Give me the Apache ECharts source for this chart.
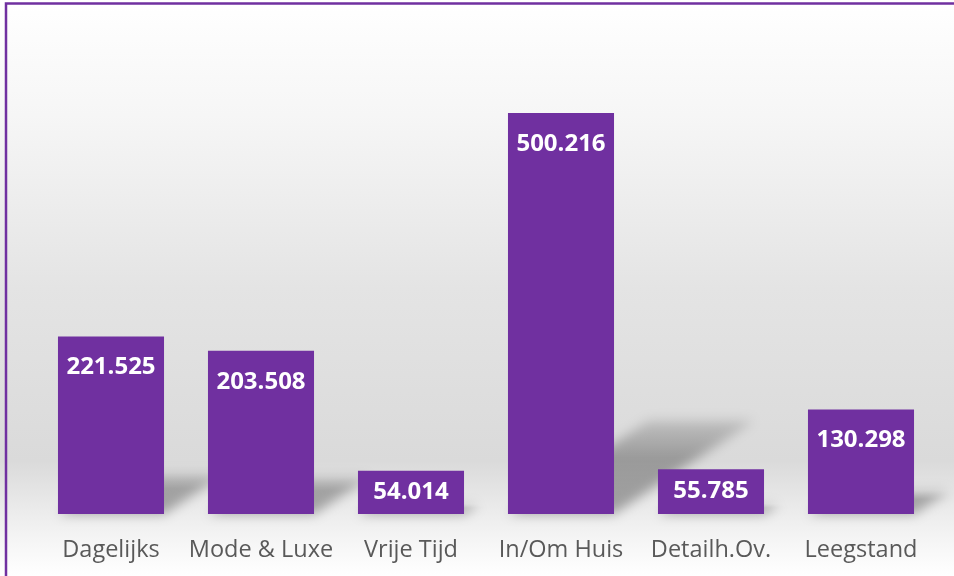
<!DOCTYPE html>
<html>
<head>
<meta charset="utf-8">
<title>Detailhandel</title>
<script src="https://cdn.jsdelivr.net/npm/echarts@6/dist/echarts.min.js"></script>
<style>
  html, body { margin: 0; padding: 0; background: #fff; }
  #chart { width: 954px; height: 576px; }
</style>
</head>
<body>
<div id="chart"></div>
<script>
// categories and values
var categories = ['Dagelijks', 'Mode & Luxe', 'Vrije Tijd', 'In/Om Huis', 'Detailh.Ov.', 'Leegstand']
var values = [221.525, 203.508, 54.014, 500.216, 55.785, 130.298]
var yMax = 600

var purple = '#7030A0'
var barRatio = 0.707
var far = 3000 // shadow shape drawn off canvas, only its blurred shadow shows

function fmt(v) {
  return v.toFixed(3)
}

var chart = echarts.init(document.getElementById('chart'))

var option = {
  animation: false,
  graphic: [
    {
      type: 'rect',
      z: -10,
      silent: true,
      shape: { x: 0, y: 0, width: 954, height: 576 },
      style: {
        fill: new echarts.graphic.LinearGradient(0, 0, 0, 1, [
          { offset: 0, color: '#ffffff' },
          { offset: 0.2, color: '#f6f6f6' },
          { offset: 0.5, color: '#e4e4e4' },
          { offset: 0.8, color: '#dadada' },
          { offset: 0.89, color: '#ececec' },
          { offset: 0.95, color: '#f7f7f7' },
          { offset: 1, color: '#ffffff' }
        ])
      }
    },
    {
      type: 'rect',
      z: 100,
      silent: true,
      shape: { x: 6, y: 3.5, width: 1000, height: 1000 },
      style: { fill: 'none', stroke: purple, lineWidth: 2.5 }
    }
  ],
  grid: {
    left: 36,
    right: 18,
    top: 33,
    bottom: 62,
    containLabel: false
  },
  xAxis: {
    type: 'category',
    data: categories,
    axisLine: { show: false },
    axisTick: { show: false },
    axisLabel: {
      interval: 0,
      color: '#595959',
      fontSize: 23.5,
      fontFamily: 'Open Sans',
      margin: 24
    }
  },
  yAxis: {
    type: 'value',
    min: 0,
    max: yMax,
    show: false,
    splitLine: { show: false }
  },
  series: [
    {
      // perspective shadow behind each bar
      type: 'custom',
      z: 1,
      silent: true,
      clip: false,
      data: values.map(function(v, i) {
        return [i, v]
      }),
      renderItem: function(params, api) {
        var base = api.coord([api.value(0), 0])
        var top = api.coord([api.value(0), api.value(1)])
        var bw = api.size([1, 0])[0] * barRatio
        var h = base[1] - top[1]
        var x0 = base[0] - bw / 2 + far
        var x1 = base[0] + bw / 2 + far
        var dx = h * 0.35
        var dy = h * 0.235
        return {
          type: 'polygon',
          shape: {
            points: [
              [x0, base[1]],
              [x1, base[1]],
              [x1 + dx, base[1] - dy],
              [x0 + dx, base[1] - dy]
            ]
          },
          style: {
            fill: new echarts.graphic.LinearGradient(0, 1, 0, 0, [
              { offset: 0, color: 'rgba(0,0,0,1)' },
              { offset: 0.6, color: 'rgba(0,0,0,0.9)' },
              { offset: 1, color: 'rgba(0,0,0,0.4)' }
            ]),
            shadowBlur: 12,
            shadowOffsetX: -far,
            shadowColor: 'rgba(0,0,0,0.32)'
          }
        }
      }
    },
    {
      type: 'bar',
      z: 3,
      barCategoryGap: '29.3%',
      data: values.map(function(v) {
        return {
          value: v,
          label: { position: v < 100 ? 'inside' : 'insideTop' }
        }
      }),
      itemStyle: {
        color: purple
      },
      label: {
        show: true,
        distance: 19,
        color: '#ffffff',
        fontSize: 24,
        fontWeight: 'bold',
        fontFamily: 'Open Sans',
        formatter: function(p) {
          return fmt(p.value)
        }
      }
    }
  ]
}

chart.setOption(option)
window.addEventListener('resize', function() {
  chart.resize()
})
</script>
</body>
</html>
